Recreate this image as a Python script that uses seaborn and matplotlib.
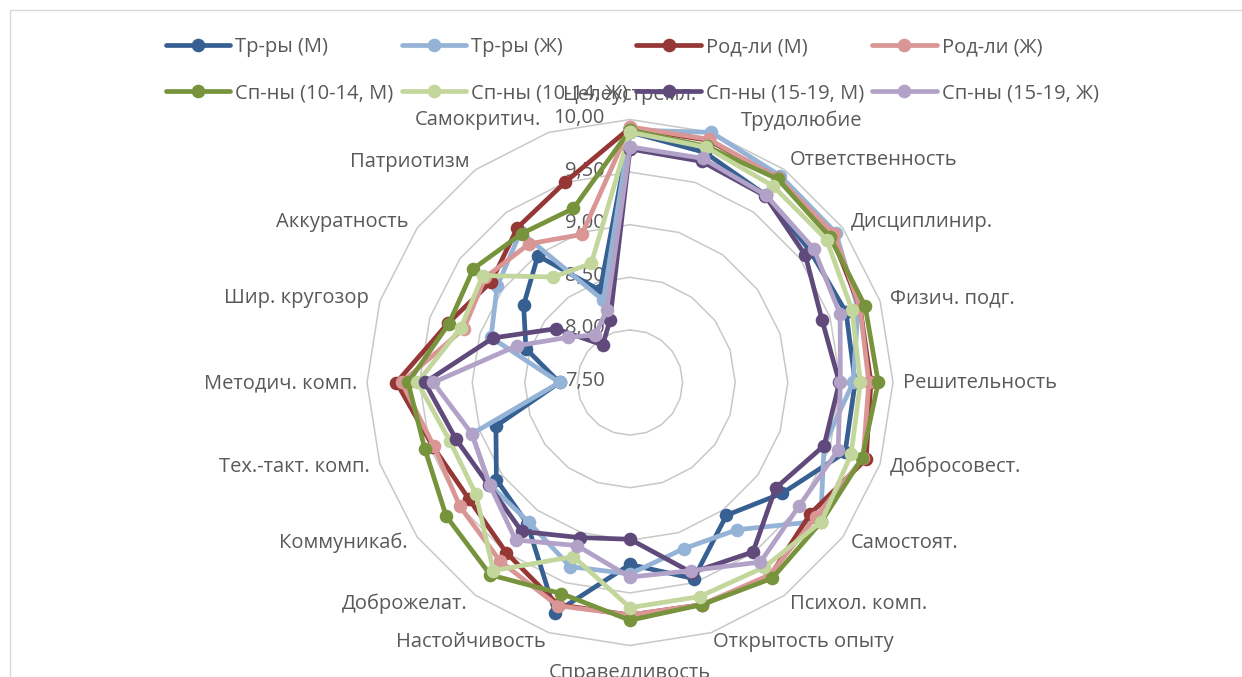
import numpy as np
import pandas as pd
import seaborn as sns
import matplotlib
matplotlib.use('Agg')
import matplotlib.pyplot as plt
from matplotlib.lines import Line2D
from matplotlib.patches import Rectangle
from matplotlib.transforms import offset_copy

# categories (clockwise from the top)
categories = ['Целеустремл.', 'Трудолюбие', 'Ответственность', 'Дисциплинир.',
              'Физич. подг.', 'Решительность', 'Добросовест.', 'Самостоят.',
              'Психол. комп.', 'Открытость опыту', 'Справедливость', 'Настойчивость',
              'Доброжелат.', 'Коммуникаб.', 'Тех.-такт. комп.', 'Методич. комп.',
              'Шир. кругозор', 'Аккуратность', 'Патриотизм', 'Самокритич.']

series_names = ['Тр-ры (М)', 'Тр-ры (Ж)', 'Род-ли (М)', 'Род-ли (Ж)',
                'Сп-ны (10-14, М)', 'Сп-ны (10-14, Ж)', 'Сп-ны (15-19, М)', 'Сп-ны (15-19, Ж)']

tr_m = [9.88, 9.80, 9.70, 9.62, 9.66, 9.64, 9.65, 9.29, 9.06, 9.46,
        9.23, 9.80, 9.16, 9.07, 8.84, 8.17, 8.54, 8.75, 8.99, 8.42]
tr_f = [9.90, 10.00, 9.93, 9.92, 9.78, 9.62, 9.44, 9.74, 9.23, 9.16,
        9.32, 9.34, 9.14, 9.15, 9.08, 8.17, 8.89, 9.06, 9.27, 8.32]
rod_m = [9.92, 9.92, 9.90, 9.87, 9.80, 9.79, 9.86, 9.62, 9.77, 9.72,
         9.71, 9.72, 9.50, 9.39, 9.47, 9.72, 9.32, 9.13, 9.32, 9.50]
rod_f = [9.93, 9.93, 9.90, 9.90, 9.80, 9.77, 9.83, 9.68, 9.76, 9.72,
         9.71, 9.73, 9.60, 9.50, 9.46, 9.67, 9.16, 9.20, 9.13, 8.98]
sp1014_m = [9.90, 9.86, 9.89, 9.85, 9.85, 9.86, 9.82, 9.75, 9.80, 9.72,
            9.76, 9.61, 9.76, 9.66, 9.55, 9.61, 9.31, 9.34, 9.25, 9.24]
sp1014_f = [9.88, 9.85, 9.81, 9.81, 9.72, 9.69, 9.71, 9.75, 9.67, 9.64,
            9.64, 9.24, 9.71, 9.31, 9.30, 9.52, 9.19, 9.23, 8.74, 8.69]
sp1519_m = [9.72, 9.71, 9.69, 9.56, 9.42, 9.49, 9.44, 9.21, 9.49, 9.40,
            8.99, 9.05, 9.25, 9.16, 9.24, 9.45, 8.87, 8.37, 7.94, 8.12]
sp1519_f = [9.74, 9.74, 9.70, 9.66, 9.60, 9.50, 9.58, 9.49, 9.61, 9.38,
            9.35, 9.13, 9.35, 9.15, 9.08, 9.37, 8.63, 8.23, 8.06, 8.22]

r_ticks = [7.5, 8.0, 8.5, 9.0, 9.5, 10.0]

colors = ['#376092', '#95B3D7', '#953735', '#DA9694',
          '#77933C', '#C3D69B', '#604A7B', '#B3A2C7']

all_series = [tr_m, tr_f, rod_m, rod_f, sp1014_m, sp1014_f, sp1519_m, sp1519_f]

# long table, polygon closed by repeating the first point
n = len(categories)
theta = np.linspace(0, 2 * np.pi, n, endpoint=False)
theta_closed = np.append(theta, 2 * np.pi)
rows = []
for name, vals in zip(series_names, all_series):
    for t, v in zip(theta_closed, vals + vals[:1]):
        rows.append({'series': name, 'theta': t, 'value': v})
df = pd.DataFrame(rows)

sns.set_theme(style='white')
plt.rcParams['font.family'] = ['Open Sans', 'DejaVu Sans']
txt_color = '#595959'
fs = 14.5

W, H = 1242, 677
fig = plt.figure(figsize=(W / 100, H / 100), dpi=100)
ax = fig.add_axes([(630 - 263) / W, (H - 382.5 - 263) / H, 526 / W, 526 / H], projection='polar')
ax.set_theta_zero_location('N')
ax.set_theta_direction(-1)

# polygon gridlines like Excel
for lv in r_ticks[1:]:
    ax.plot(theta_closed, [lv] * (n + 1), color='#c8c8c8', lw=1.1, zorder=0)

sns.lineplot(data=df, x='theta', y='value', hue='series', hue_order=series_names,
             palette=colors, sort=False, estimator=None, marker='o', markersize=9.8,
             markeredgewidth=0, linewidth=3.4, legend=False, ax=ax, zorder=3)
for ln in ax.lines:
    ln.set_clip_on(False)

ax.set_ylim(7.5, 10.0)
ax.set_xticks([])
ax.set_yticks([])
ax.grid(False)
ax.spines['polar'].set_visible(False)
ax.set_facecolor('none')
ax.set_xlabel('')
ax.set_ylabel('')

# radial value labels to the left of the vertical axis
tr = offset_copy(ax.transData, fig=fig, x=-25, y=1.5, units='dots')
for v in r_ticks:
    ax.text(0, v, f'{v:.2f}'.replace('.', ','), transform=tr, ha='right', va='center',
            color=txt_color, fontsize=fs, zorder=1)

# category labels (pixel anchors)
label_pos = [(630, 95, 'center'), (741, 121, 'left'), (790, 160, 'left'), (851, 222, 'left'),
             (890, 298, 'left'), (903, 383, 'left'), (890, 467, 'left'), (851, 543, 'left'),
             (790, 604, 'left'), (713, 642, 'left'), (630, 673, 'center'), (546, 642, 'right'),
             (468, 604, 'right'), (408, 543, 'right'), (370, 467, 'right'), (357, 383, 'right'),
             (369, 298, 'right'), (408, 222, 'right'), (469, 162, 'right'), (541, 120, 'right')]
for lab, (x, y, ha) in zip(categories, label_pos):
    fig.text(x / W, 1 - y / H, lab, ha=ha, va='center', color=txt_color, fontsize=fs, zorder=1)

# legend, row-major order like Excel
handles = [Line2D([], [], color=c, lw=3.4, marker='o', markersize=9.8, markeredgewidth=0)
           for c in colors]
order = [0, 4, 1, 5, 2, 6, 3, 7]
fig.legend([handles[i] for i in order], [series_names[i] for i in order], ncol=4,
           loc='upper left', bbox_to_anchor=(166 / W, 1 - 37 / H), frameon=False,
           fontsize=fs, labelcolor=txt_color, handlelength=3.2, handletextpad=0.25,
           columnspacing=0.4, labelspacing=1.3, borderpad=0, borderaxespad=0)

# chart area border
fig.add_artist(Rectangle((10 / W, -0.1), 1.2, 1.1 - 10 / H, transform=fig.transFigure,
                         fill=False, edgecolor='#d9d9d9', lw=1))

fig.savefig('out.png', dpi=100)
